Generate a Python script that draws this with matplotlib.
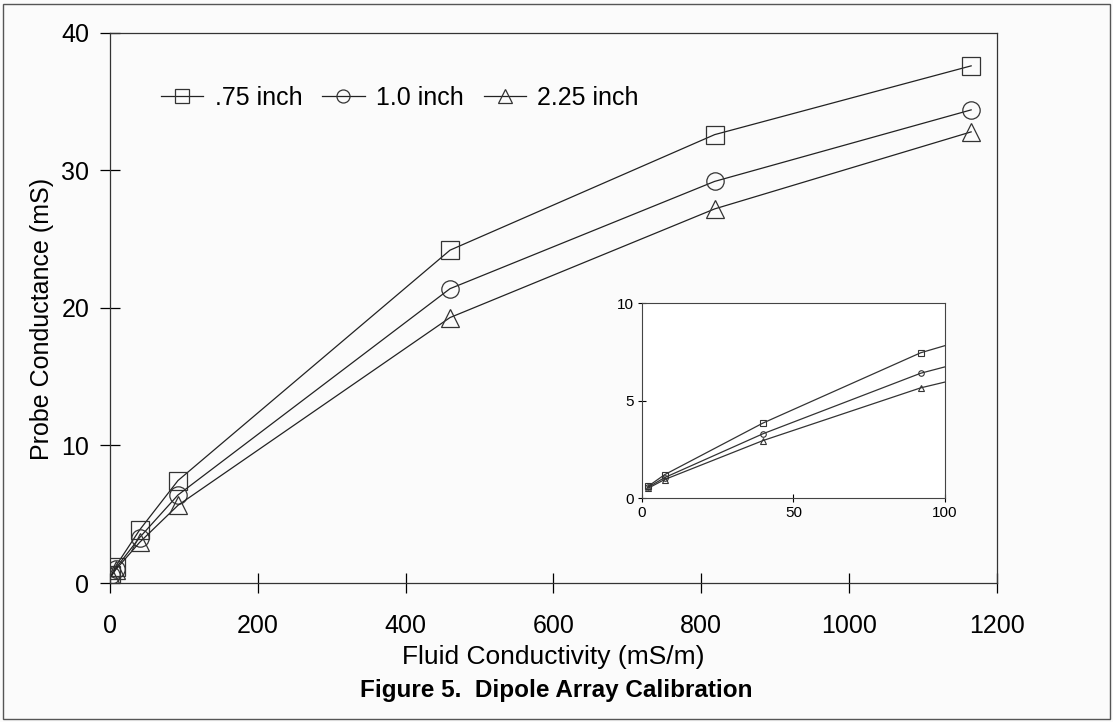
import matplotlib
matplotlib.use("Agg")
import matplotlib.pyplot as plt
from matplotlib.patches import Rectangle

plt.rcParams['font.family'] = ['Liberation Sans', 'DejaVu Sans']

# Data
conductivity = [2, 7.5, 40, 92, 460, 818, 1165]
probe_075 = [0.6, 1.2, 3.85, 7.45, 24.2, 32.6, 37.6]
probe_100 = [0.55, 1.05, 3.3, 6.4, 21.4, 29.2, 34.4]
probe_225 = [0.5, 0.95, 2.95, 5.65, 19.3, 27.2, 32.8]
labels = ['.75 inch', '1.0 inch', '2.25 inch']
markers = ['s', 'o', '^']

x_ticks = [0, 200, 400, 600, 800, 1000, 1200]
y_ticks = [0, 10, 20, 30, 40]
inset_x_ticks = [0, 50, 100]
inset_y_ticks = [0, 5, 10]

series = [probe_075, probe_100, probe_225]

fig = plt.figure(figsize=(11.13, 7.22), dpi=100)
fig.patch.set_facecolor('#fbfbfb')
fig.patches.append(Rectangle((0.003, 0.004), 0.994, 0.99, transform=fig.transFigure,
                             fill=False, edgecolor='#555555', linewidth=1.0))

ax = fig.add_axes([0.0988, 0.1925, 0.797, 0.762])
ax.set_facecolor('none')
for ys, lab, m in zip(series, labels, markers):
    ax.plot(conductivity, ys, color='#222222', linewidth=0.9, marker=m,
            markersize=13.5 if m == 's' else 12.5, markerfacecolor='none',
            markeredgecolor='#333333', markeredgewidth=0.9, label=lab)
ax.set_xlim(0, 1200)
ax.set_ylim(0, 40)
ax.set_xticks(x_ticks)
ax.set_yticks(y_ticks)
ax.tick_params(direction='inout', length=14, width=0.9, labelsize=18)
ax.tick_params(axis='y', pad=8)
ax.tick_params(axis='x', pad=15)
for sp in ax.spines.values():
    sp.set_linewidth(0.9)
    sp.set_color('#333333')
ax.set_xlabel('Fluid Conductivity (mS/m)', fontsize=19, labelpad=5)
ax.set_ylabel('Probe Conductance (mS)', fontsize=18)
ax.yaxis.set_label_coords(-0.063, 0.48)
leg = ax.legend(loc='upper left', ncol=3, frameon=False, fontsize=18,
                bbox_to_anchor=(0.032, 0.945), handlelength=1.7, columnspacing=0.8,
                handletextpad=0.45, markerscale=0.75)

fig.text(0.5, 0.035, 'Figure 5.  Dipole Array Calibration', fontsize=17.5,
         fontweight='bold', ha='center')

# Inset
ins = fig.add_axes([0.5768, 0.3102, 0.2722, 0.2701])
ins.set_facecolor('white')
for ys, m in zip(series, markers):
    ins.plot(conductivity, ys, color='#333333', linewidth=0.9, marker=m,
             markersize=4, markerfacecolor='none', markeredgecolor='#333333',
             markeredgewidth=0.8)
ins.set_xlim(0, 100)
ins.set_ylim(0, 10)
ins.set_xticks(inset_x_ticks)
ins.set_yticks(inset_y_ticks)
ins.tick_params(direction='inout', length=6, width=0.8, labelsize=11, pad=3)
for sp in ins.spines.values():
    sp.set_linewidth(0.8)
    sp.set_color('#444444')

fig.savefig('out.png', dpi=100, facecolor=fig.get_facecolor())
